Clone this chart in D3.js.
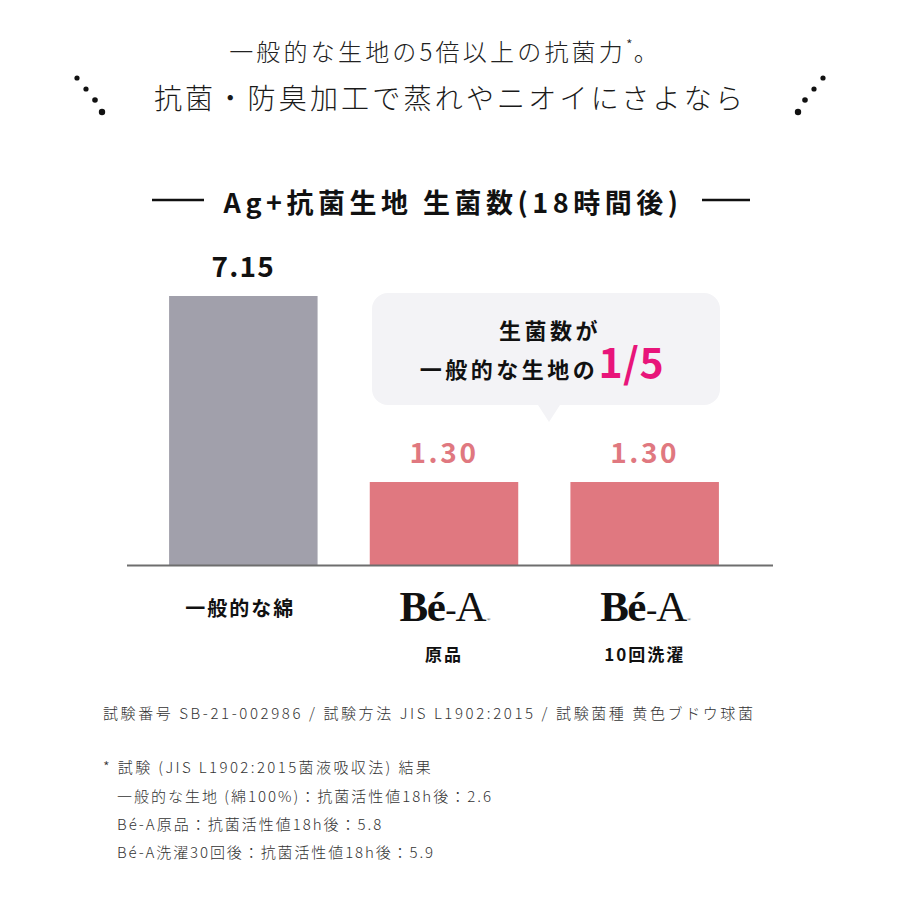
<!DOCTYPE html>
<html><head><meta charset="utf-8">
<script src="https://cdn.jsdelivr.net/npm/d3@7/dist/d3.min.js"></script>
<style>
html,body{margin:0;padding:0;background:#fff;}
svg{display:block;font-family:"Noto Sans CJK JP","Noto Sans",sans-serif;}
</style></head>
<body>
<svg id="chart" width="900" height="900"></svg>
<script>
// ---- data ----
const categories = ["一般的な綿", "Bé-A原品", "Bé-A10回洗濯"];
const brandLabels = ["", "Bé-A", "Bé-A"];
const subLabels = ["", "原品", "10回洗濯"];
const values = [7.15, 1.30, 1.30];
const valueLabels = ["7.15", "1.30", "1.30"];
const headline1 = "一般的な生地の5倍以上の抗菌力";
const headline2 = "抗菌・防臭加工で蒸れやニオイにさよなら";
const chartTitle = "Ag+抗菌生地 生菌数(18時間後)";
const calloutLine1 = "生菌数が";
const calloutLine2 = "一般的な生地の";
const calloutEmph = "1/5";
const notes = [
  "試験番号 SB-21-002986 / 試験方法 JIS L1902:2015 / 試験菌種 黄色ブドウ球菌",
  "* 試験 (JIS L1902:2015菌液吸収法) 結果",
  "一般的な生地 (綿100%)：抗菌活性値18h後：2.6",
  "Bé-A原品：抗菌活性値18h後：5.8",
  "Bé-A洗濯30回後：抗菌活性値18h後：5.9"
];

const svg = d3.select("#chart");
const W = 900;

// ---- header ----
const h1 = svg.append("text").attr("x", 445).attr("y", 61).attr("text-anchor", "middle")
  .attr("font-size", 24).attr("font-weight", 300).attr("letter-spacing", 3.2).attr("fill", "#222");
h1.append("tspan").text(headline1);
h1.append("tspan").text("*").attr("font-size", 15).attr("dy", -10).attr("letter-spacing", 1);
h1.append("tspan").text("。").attr("dy", 10);

svg.append("text").attr("x", 450).attr("y", 109).attr("text-anchor", "middle")
  .attr("font-size", 28).attr("font-weight", 300).attr("letter-spacing", 3.2).attr("fill", "#1a1a1a")
  .text(headline2);

const dotsL = [[77,78,2.6],[86,89,2.6],[95,100,2.8],[102,112,3.2]];
svg.selectAll("circle.dl").data(dotsL).join("circle").attr("class","dl")
  .attr("cx", d => d[0]).attr("cy", d => d[1]).attr("r", d => d[2]).attr("fill", "#111");
svg.selectAll("circle.dr").data(dotsL).join("circle").attr("class","dr")
  .attr("cx", d => W - d[0]).attr("cy", d => d[1]).attr("r", d => d[2]).attr("fill", "#111");

// ---- title ----
svg.append("text").attr("x", 453).attr("y", 213).attr("text-anchor", "middle")
  .attr("font-size", 27).attr("font-weight", 700).attr("letter-spacing", 4.5).attr("fill", "#111")
  .text(chartTitle);
svg.append("line").attr("x1", 152).attr("x2", 204).attr("y1", 200).attr("y2", 200)
  .attr("stroke", "#111").attr("stroke-width", 2.5);
svg.append("line").attr("x1", 702).attr("x2", 750).attr("y1", 200).attr("y2", 200)
  .attr("stroke", "#111").attr("stroke-width", 2.5);

// ---- scales ----
const x = d3.scaleBand().domain(categories).range([143, 745]).paddingInner(0.26).paddingOuter(0.13);
const y = d3.scaleLinear().domain([-1.31, 7.15]).range([565, 296]);
const barColors = ["#a1a0ab", "#e07880", "#e07880"];
const labelColors = ["#111", "#e07880", "#e07880"];

// bars
svg.selectAll("rect.bar").data(values).join("rect").attr("class", "bar")
  .attr("x", (d, i) => x(categories[i]))
  .attr("width", x.bandwidth())
  .attr("y", d => y(d))
  .attr("height", d => y(y.domain()[0]) - y(d))
  .attr("fill", (d, i) => barColors[i]);

// baseline
svg.append("line").attr("x1", 127).attr("x2", 773)
  .attr("y1", y(y.domain()[0]) + 0.5).attr("y2", y(y.domain()[0]) + 0.5)
  .attr("stroke", "#6e6e6e").attr("stroke-width", 2);

// value labels
svg.selectAll("text.val").data(values).join("text").attr("class", "val")
  .attr("x", (d, i) => x(categories[i]) + x.bandwidth() / 2)
  .attr("y", d => y(d) - 19)
  .attr("text-anchor", "middle").attr("font-size", 28).attr("font-weight", 700)
  .attr("letter-spacing", (d, i) => i === 0 ? 1.2 : 2.6)
  .attr("fill", (d, i) => labelColors[i])
  .text((d, i) => valueLabels[i]);

// category labels
svg.append("text").attr("x", x(categories[0]) + x.bandwidth() / 2 - 3).attr("y", 616)
  .attr("text-anchor", "middle").attr("font-size", 20).attr("font-weight", 700)
  .attr("letter-spacing", 2).attr("fill", "#111").text(categories[0]);

[1, 2].forEach(i => {
  const cx = x(categories[i]) + x.bandwidth() / 2;
  const t = svg.append("text").attr("x", cx + 1).attr("y", 621).attr("text-anchor", "middle")
    .style("font-family", "'Liberation Serif','DejaVu Serif',serif").attr("fill", "#111");
  t.append("tspan").text("Bé").attr("font-size", 43).attr("font-weight", 700)
    .attr("letter-spacing", -1.5);
  t.append("tspan").text("-").attr("font-size", 34).attr("font-weight", 400).attr("dx", 1);
  t.append("tspan").text("A").attr("font-size", 43).attr("font-weight", 400).attr("dx", -1);
  t.append("tspan").text("®").attr("font-size", 5);
  svg.append("text").attr("x", cx).attr("y", 661).attr("text-anchor", "middle")
    .attr("font-size", 17).attr("font-weight", 700).attr("letter-spacing", 2)
    .attr("fill", "#111").text(subLabels[i]);
});

// ---- callout ----
const bx = 372, by = 293, bw = 348, bh = 112, tipX = 549;
const path = d3.path();
const r = 16;
path.moveTo(bx + r, by);
path.lineTo(bx + bw - r, by);
path.arcTo(bx + bw, by, bx + bw, by + r, r);
path.lineTo(bx + bw, by + bh - r);
path.arcTo(bx + bw, by + bh, bx + bw - r, by + bh, r);
path.lineTo(tipX + 11, by + bh);
path.lineTo(tipX, by + bh + 17);
path.lineTo(tipX - 11, by + bh);
path.lineTo(bx + r, by + bh);
path.arcTo(bx, by + bh, bx, by + bh - r, r);
path.lineTo(bx, by + r);
path.arcTo(bx, by, bx + r, by, r);
path.closePath();
svg.append("path").attr("d", path.toString()).attr("fill", "#f3f3f6");

svg.append("text").attr("x", 550).attr("y", 339).attr("text-anchor", "middle")
  .attr("font-size", 22).attr("font-weight", 700).attr("letter-spacing", 3.5).attr("fill", "#111")
  .text(calloutLine1);
const c2 = svg.append("text").attr("x", 542).attr("y", 378).attr("text-anchor", "middle")
  .attr("font-weight", 700).attr("fill", "#111");
c2.append("tspan").text(calloutLine2).attr("font-size", 22).attr("letter-spacing", 3.5);
c2.append("tspan").text(calloutEmph).attr("font-size", 41).attr("fill", "#e8157a").attr("letter-spacing", 0.5);

// ---- notes ----
svg.append("text").attr("x", 103).attr("y", 719).attr("font-size", 15).attr("font-weight", 300)
  .attr("letter-spacing", 2.6).attr("fill", "#333").text(notes[0]);
const noteY = [773, 802, 830, 858];
const noteX = [103, 117, 117, 117];
const noteLS = [2.4, 2.0, 2.0, 1.9];
svg.selectAll("text.note").data(notes.slice(1)).join("text").attr("class", "note")
  .attr("x", (d, i) => noteX[i]).attr("y", (d, i) => noteY[i])
  .attr("font-size", 15).attr("font-weight", 300).attr("letter-spacing", (d, i) => noteLS[i]).attr("fill", "#333")
  .text(d => d);
</script>
</body></html>
